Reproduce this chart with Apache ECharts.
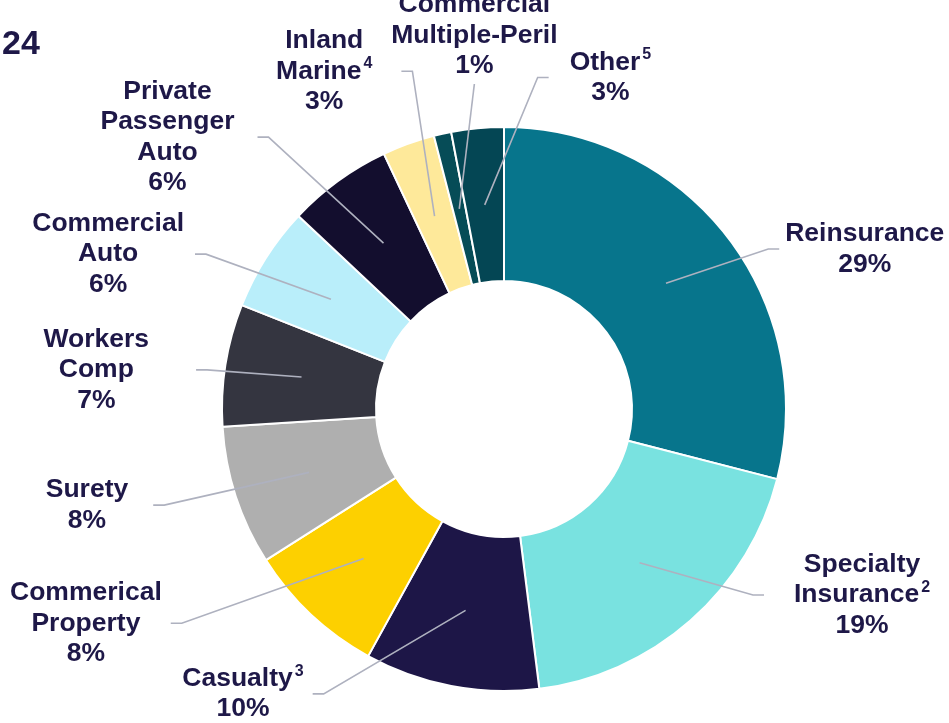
<!DOCTYPE html>
<html>
<head>
<meta charset="utf-8">
<script src="https://cdn.jsdelivr.net/npm/echarts@6/dist/echarts.min.js"></script>
<style>
  html, body { margin: 0; padding: 0; background: #fff; }
  #chart { width: 949px; height: 723px; }
</style>
</head>
<body>
<div id="chart"></div>
<script>
const categories = [
    "Reinsurance", "Specialty Insurance", "Casualty", "Commerical Property", "Surety",
    "Workers Comp", "Commercial Auto", "Private Passenger Auto", "Inland Marine",
    "Commercial Multiple-Peril", "Other"
];
const labelNames = [
    "Reinsurance", "Specialty\nInsurance", "Casualty", "Commerical\nProperty", "Surety",
    "Workers\nComp", "Commercial\nAuto", "Private\nPassenger\nAuto", "Inland\nMarine",
    "Commercial\nMultiple-Peril", "Other"
];
const footnotes = ["", "2", "3", "", "", "", "", "", "4", "", "5"];
const shares = [29, 19, 10, 8, 8, 7, 6, 6, 3, 1, 3];
const colors = [
    "#07758c", "#79e2e0", "#1d1647", "#fdd000", "#afafaf",
    "#343540", "#b9eefa", "#130e2e", "#fee99a", "#064c57", "#044654"
];

// leader line tuning per slice: [length, length2, side of label, gap to label]
const leaders = [
    [56, 69, "right", 6],
    [43, 96, "right", 30],
    [85, 137, "left", 9],
    [89, 132, "left", 9],
    [106, 55, "left", 25],
    [45, 61, "left", 47],
    [84, 65, "left", 11],
    [131, 49, "left", 23],
    [154, -19, "left", 29],
    [128, -43, "top", 3],
    [128, -76, "right", 21]
];

const textColor = "#1e1848";
const font = "'Liberation Sans', Arial, sans-serif";

const chart = echarts.init(document.getElementById("chart"));

const labelText = (i) => {
    const lines = labelNames[i].split("\n").map(s => `{t|${s}}`);
    if (footnotes[i]) lines[lines.length - 1] += `{s|${footnotes[i]}}`;
    lines.push(`{t|${shares[i]}%}`);
    return lines.join("\n");
};

const option = {
    animation: false,
    title: {
        text: "24",
        left: -3,
        top: 23,
        textStyle: {fontSize: 34, fontWeight: "bold", color: textColor, fontFamily: font}
    },
    series: [
        {
            type: "pie",
            center: [504, 409],
            radius: [128, 282],
            startAngle: 90,
            silent: true,
            z: 2,
            label: {show: false},
            labelLine: {show: false},
            itemStyle: {borderColor: "#fff", borderWidth: 2},
            data: shares.map((v, i) => ({
                name: categories[i],
                value: v,
                itemStyle: {color: colors[i]}
            }))
        },
        {
            // transparent pie so the leader lines start inside the ring
            type: "pie",
            center: [504, 409],
            radius: [0, 205],
            startAngle: 90,
            silent: true,
            z: 3,
            avoidLabelOverlap: false,
            itemStyle: {color: "rgba(0,0,0,0)", borderWidth: 0},
            label: {
                show: true,
                position: "outside",
                formatter: (p) => labelText(p.dataIndex),
                rich: {
                    t: {
                        fontSize: 26.5, fontWeight: "bold", color: textColor,
                        fontFamily: font, lineHeight: 30.5, align: "center"
                    },
                    s: {
                        fontSize: 16, fontWeight: "bold", color: textColor,
                        fontFamily: font, lineHeight: 14, verticalAlign: "top",
                        align: "center", padding: [0, 0, 0, 2]
                    }
                }
            },
            labelLine: {
                show: true,
                lineStyle: {color: "#aeb1bf", width: 1.6}
            },
            labelLayout: (p) => {
                const pts = p.labelLinePoints;
                if (!pts) return {};
                const [, , side, gap] = leaders[p.dataIndex];
                const start = pts[0];
                const end = pts[pts.length - 1];
                if (side === "top") {
                    return {
                        x: end[0], y: end[1] - gap,
                        align: "center", verticalAlign: "bottom",
                        labelLinePoints: [start, end, end]
                    };
                }
                const dir = side === "right" ? 1 : -1;
                return {
                    x: end[0] + dir * gap,
                    y: end[1],
                    align: side === "right" ? "left" : "right",
                    verticalAlign: "middle",
                    labelLinePoints: [start, [end[0] - dir * 11, end[1]], end]
                };
            },
            data: shares.map((v, i) => ({
                name: categories[i],
                value: v,
                labelLine: {length: leaders[i][0], length2: leaders[i][1]}
            }))
        }
    ]
};

chart.setOption(option);
</script>
</body>
</html>
